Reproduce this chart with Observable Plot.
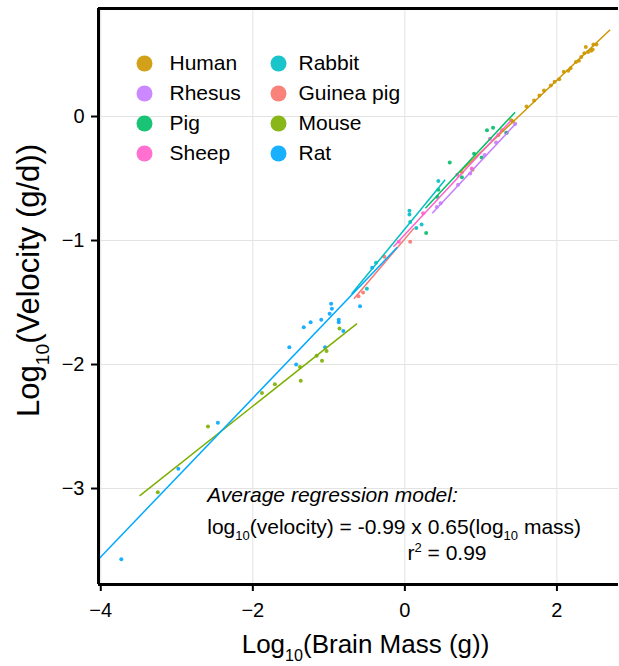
<!DOCTYPE html>
<html>
<head>
<meta charset="utf-8">
<script src="https://cdn.jsdelivr.net/npm/d3@7"></script>
<script src="https://cdn.jsdelivr.net/npm/@observablehq/plot@0.6"></script>
<style>
  html, body { margin: 0; padding: 0; background: white; }
</style>
</head>
<body>
<div id="chart"></div>
<script>
// ---- Data ----
const species = ["Human", "Rhesus", "Pig", "Sheep", "Rabbit", "Guinea pig", "Mouse", "Rat"];
const colors  = ["#CD9600", "#C77CFF", "#00BE67", "#FF61CC", "#00BFC4", "#F8766D", "#7CAE00", "#00A9FF"];

// [log10 brain mass, log10 velocity]
const humanPts = [[0.75,-0.45],[0.89,-0.43],[1.28,-0.11],[1.40,-0.03],[1.42,-0.04],[1.60,0.08],[1.70,0.13],[1.77,0.17],[1.83,0.21],[1.92,0.25],[1.97,0.28],[2.03,0.30],[2.09,0.36],[2.15,0.37],[2.18,0.39],[2.25,0.44],[2.29,0.45],[2.32,0.48],[2.36,0.51],[2.38,0.56],[2.41,0.52],[2.45,0.53],[2.47,0.54],[2.48,0.58],[2.52,0.58]];
const rhesusPts = [[0.42,-0.73],[0.47,-0.70],[0.70,-0.55],[0.86,-0.46],[1.05,-0.31],[1.20,-0.21],[1.33,-0.13],[1.45,-0.06]];
const pigPts = [[0.28,-0.94],[0.43,-0.65],[0.44,-0.59],[0.59,-0.37],[0.75,-0.49],[0.91,-0.30],[1.01,-0.33],[1.08,-0.11],[1.16,-0.09],[1.34,-0.13]];
const sheepPts = [[-0.08,-1.01],[0.24,-0.78],[0.69,-0.47],[0.88,-0.42],[1.12,-0.18],[1.23,-0.15]];
const rabbitPts = [[-0.50,-1.39],[-0.38,-1.18],[0.06,-0.76],[0.06,-0.79],[0.07,-0.85],[0.15,-0.90],[0.22,-0.87],[0.44,-0.52]];
const guineaPts = [[-0.61,-1.45],[-0.55,-1.42],[-0.27,-1.13],[0.07,-1.01]];
const mousePts = [[-3.25,-3.03],[-2.59,-2.50],[-1.88,-2.23],[-1.71,-2.16],[-1.37,-2.13],[-1.38,-2.02],[-1.16,-1.93],[-1.09,-1.97],[-1.03,-1.89],[-0.86,-1.71]];
const ratPts = [[-3.73,-3.57],[-2.98,-2.84],[-2.46,-2.47],[-1.52,-1.86],[-1.43,-2.00],[-1.33,-1.70],[-1.24,-1.66],[-1.10,-1.64],[-1.05,-1.86],[-0.99,-1.59],[-0.97,-1.51],[-0.96,-1.55],[-0.87,-1.64],[-0.87,-1.66],[-0.81,-1.73],[-0.59,-1.53],[-0.43,-1.22]];

// Per-species regression lines: [x start, y start, x end, y end]
const humanFit  = [0.72, -0.45, 2.70, 0.70];
const rhesusFit = [0.36, -0.78, 1.47, -0.05];
const pigFit    = [0.27, -0.74, 1.45, 0.035];
const sheepFit  = [-0.15, -1.05, 1.40, -0.03];
const rabbitFit = [-0.70, -1.43, 0.53, -0.51];
const guineaFit = [-0.67, -1.47, 0.12, -0.90];
const mouseFit  = [-3.49, -3.06, -0.63, -1.67];
const ratFit    = [-4.03, -3.57, -0.10, -1.055];

const xTicks = [-4, -2, 0, 2];
const yTicks = [0, -1, -2, -3];
const xDomain = [-4.03, 2.81];
const yDomain = [-3.774, 0.871];

const xTitle = "Log_{10}(Brain Mass (g))";
const yTitle = "Log_{10}(Velocity (g/d))";
const noteTitle = [{x: -2.60, y: -3.056, text: "Average regression model:"}];
const noteLines = [
  {x: -2.60, y: -3.31, text: "log_{10}(velocity) = -0.99 x 0.65(log_{10} mass)"},
  {x: 0.034, y: -3.52, text: "r^{2} = 0.99"}
];

// ---- Tables built from the arrays ----
const ptsBySpecies = [humanPts, rhesusPts, pigPts, sheepPts, rabbitPts, guineaPts, mousePts, ratPts];
const fitsBySpecies = [humanFit, rhesusFit, pigFit, sheepFit, rabbitFit, guineaFit, mouseFit, ratFit];
const points = ptsBySpecies.flatMap((arr, i) => arr.map(([x, y]) => ({species: species[i], x, y})));
const fits = fitsBySpecies.map(([x1, y1, x2, y2], i) => ({species: species[i], x1, y1, x2, y2}));

const fmt = d => (d < 0 ? "\u2212" + Math.abs(d) : String(d));
const FONT = "'Liberation Sans', Arial, Helvetica, sans-serif";

const legendMarks = species.flatMap((s, i) => {
  const col = i < 4 ? 0 : 1, row = i % 4;
  return [
    Plot.dot([s], {frameAnchor: "top-left", dx: col ? 180 : 46, dy: 55 + row * 30, r: 8, fill: colors[i], fillOpacity: 0.9}),
    Plot.text([s], {frameAnchor: "top-left", dx: col ? 200 : 71, dy: 55 + row * 30, text: d => d, textAnchor: "start", lineAnchor: "middle", fontSize: 21, fill: "black"})
  ];
});

const chart = Plot.plot({
  width: 619,
  height: 666,
  marginLeft: 98,
  marginRight: 1,
  marginTop: 8,
  marginBottom: 82,
  style: {fontFamily: FONT, fontSize: "20px", color: "black", background: "white"},
  x: {domain: xDomain},
  y: {domain: yDomain},
  color: {domain: species, range: colors},
  marks: [
    Plot.gridX(xTicks, {stroke: "#e3e3e3", strokeOpacity: 1, strokeWidth: 1}),
    Plot.gridY(yTicks, {stroke: "#e3e3e3", strokeOpacity: 1, strokeWidth: 1}),
    Plot.axisX(xTicks, {tickSize: 7, tickPadding: 11, strokeWidth: 2, tickFormat: fmt, label: null}),
    Plot.axisY(yTicks, {tickSize: 7, tickPadding: 7, strokeWidth: 2, tickFormat: fmt, label: null}),
    Plot.dot(points, {x: "x", y: "y", fill: "species", r: 2, fillOpacity: 0.9}),
    Plot.link(fits, {x1: "x1", y1: "y1", x2: "x2", y2: "y2", stroke: "species", strokeWidth: 1.5}),
    Plot.ruleX([xDomain[0]], {stroke: "black", strokeWidth: 3}),
    Plot.ruleY([yDomain[0], yDomain[1]], {stroke: "black", strokeWidth: 3}),
    ...legendMarks,
    Plot.text(noteTitle, {x: "x", y: "y", text: "text", textAnchor: "start", lineAnchor: "middle", fontSize: 21, fontStyle: "italic", fill: "black"}),
    Plot.text(noteLines, {x: "x", y: "y", text: "text", textAnchor: "start", lineAnchor: "middle", fontSize: 21, fill: "black"}),
    Plot.text([xTitle], {frameAnchor: "bottom", textAnchor: "middle", dx: 7, dy: 60, text: d => d, lineAnchor: "middle", fontSize: 26, fill: "black"}),
    Plot.text([yTitle], {frameAnchor: "left", textAnchor: "middle", dx: -69, dy: -16, rotate: -90, text: d => d, lineAnchor: "middle", fontSize: 31, fill: "black"})
  ]
});

document.getElementById("chart").appendChild(chart);

// Render _{..} as subscripts and ^{..} as superscripts using tspans
d3.select(chart).selectAll("text").each(function() {
  const t = this.textContent;
  if (!/[_^]\{/.test(t)) return;
  const size = parseFloat(getComputedStyle(this).fontSize) || 20;
  const sel = d3.select(this);
  sel.text(null);
  const re = /([_^])\{([^}]*)\}/g;
  let last = 0, m, offset = 0;
  while ((m = re.exec(t))) {
    if (m.index > last) {
      const ts = sel.append("tspan").text(t.slice(last, m.index));
      if (offset) { ts.attr("dy", -offset); offset = 0; }
    }
    const shift = m[1] === "_" ? size * 0.3 : -size * 0.38;
    sel.append("tspan").attr("font-size", size * 0.62).attr("dy", shift - offset).text(m[2]);
    offset = shift;
    last = re.lastIndex;
  }
  if (last < t.length) {
    const ts = sel.append("tspan").text(t.slice(last));
    if (offset) ts.attr("dy", -offset);
  }
});
</script>
</body>
</html>
